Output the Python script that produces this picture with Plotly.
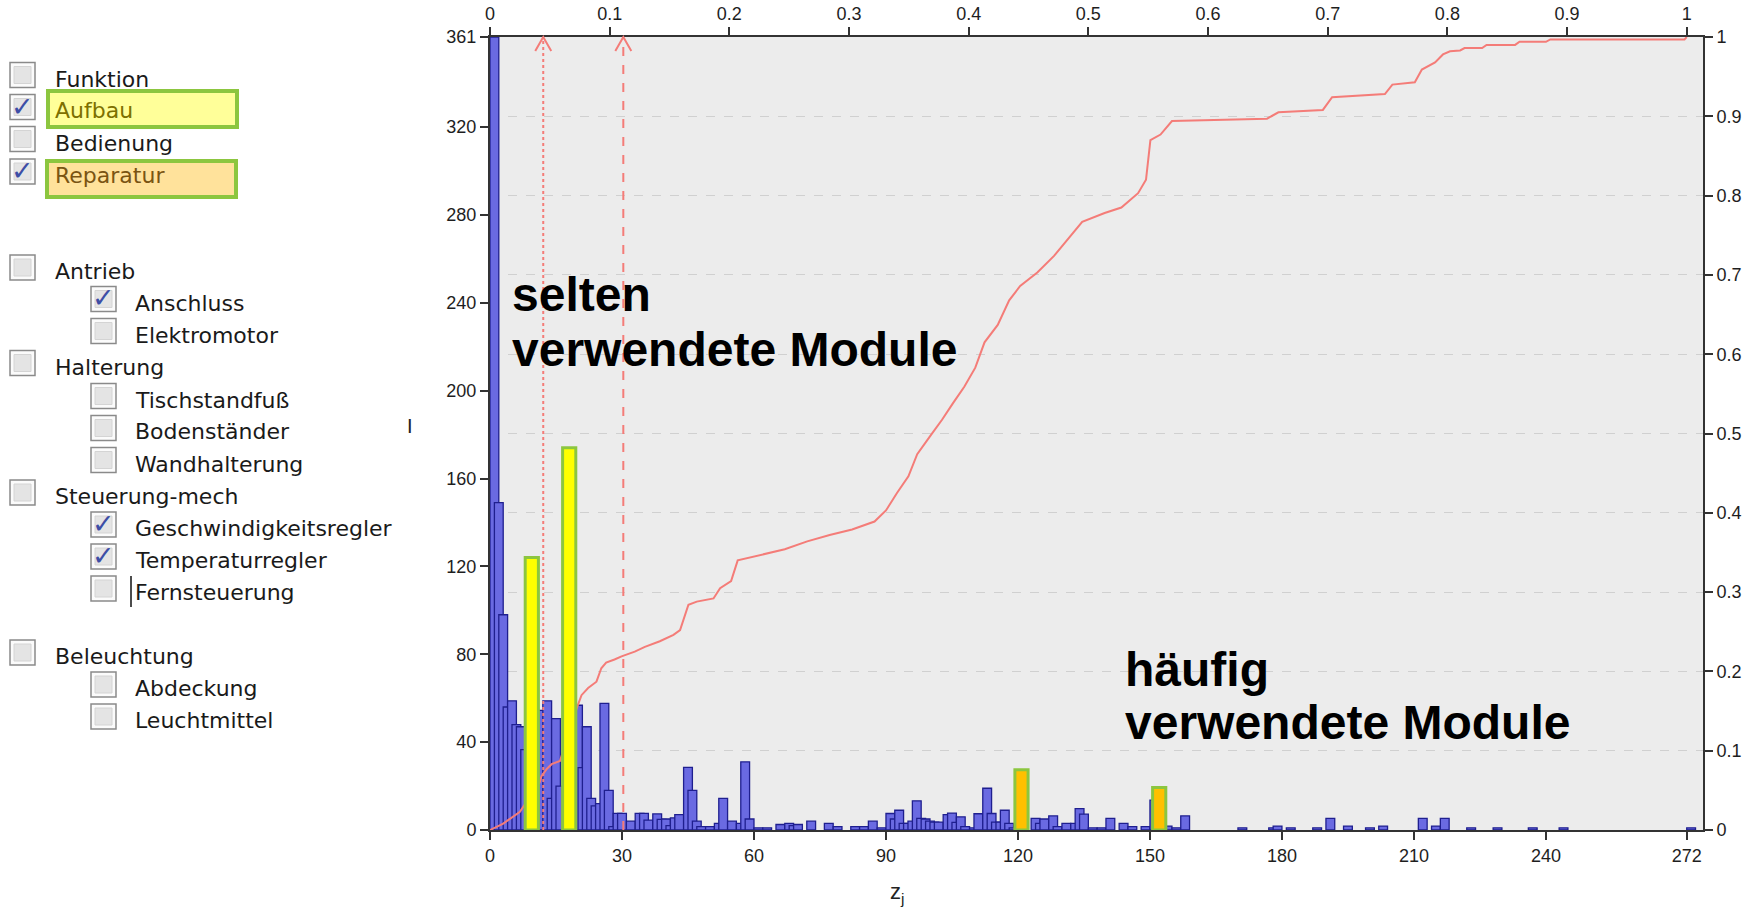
import plotly.graph_objects as go

# ---------------- data ----------------
# blue histogram: left edge z position and count (each bar spans two z units)
z_positions = [0, 1, 2, 3, 4, 5, 6, 7, 11, 12, 13, 14, 15, 19, 20, 21, 22, 23, 24, 25, 26, 27,
               28, 29, 31, 33, 34, 35, 37, 38, 39, 40, 41, 42, 44, 45, 46, 47, 49, 51, 52, 54,
               56, 57, 58, 60, 62, 65, 67, 68, 69, 72, 76, 78, 82, 84, 86, 88, 90, 91, 92, 93,
               94, 95, 96, 97, 98, 99, 100, 101, 103, 104, 105, 106, 107, 109, 110, 112, 113,
               114, 115, 116, 117, 118, 123, 124, 125, 127, 128, 130, 132, 133, 134, 136, 138,
               140, 143, 145, 148, 150, 153, 155, 157, 170, 177, 178, 181, 187, 190, 194, 199,
               202, 211, 214, 216, 222, 228, 236, 243, 272]
module_counts = [361, 149, 98, 56, 58.8, 48, 47, 36.6, 54.5, 58.8, 14.4, 50.7, 20, 56.8, 28.4, 47,
                 14.4, 11, 12, 57.6, 18, 1.5, 7.6, 7.6, 4, 7.6, 7.6, 4.5, 7.3, 4.8, 5, 2, 5.5,
                 7, 28.5, 18, 4, 1.5, 1.5, 3, 14.4, 4, 3, 31, 5, 1, 1, 2.5, 3, 2, 2.5, 4, 3, 1.5,
                 1.5, 1.5, 4, 1, 7.5, 5, 9, 3, 3, 4, 13.3, 5.3, 5, 4, 3.6, 3.6, 7, 7.7, 3.5, 6,
                 1.5, 1, 7.4, 19, 7.5, 3.6, 3.6, 9, 3, 1, 5.3, 3, 5, 6.4, 1.5, 3, 3, 9.7, 7.2, 1,
                 1, 5.3, 3, 1.5, 1.5, 13.6, 1.8, 1, 6.4, 1, 1, 1.8, 1, 1, 5.3, 1.8, 1, 1.8, 5.3,
                 1.8, 5.3, 1, 1, 1, 1, 1]

# highlighted modules
aufbau_z = [9.5, 18.0]
aufbau_counts = [124, 174]
reparatur_z = [120.8, 152.1]
reparatur_counts = [27.4, 19.3]

# cumulative share curve (right axis) read at z positions
cum_z = [0, 3, 6.8, 11.3, 11.7, 12.9, 14.0, 15.9, 19.8, 20.8, 22.3, 24.2, 25.3, 26.4, 28.3, 29.9,
         32.9, 35.2, 38.6, 41.7, 43.2, 45.1, 47.0, 50.8, 52.3, 54.8, 56.3, 61.9, 67.0, 72.1,
         77.2, 82.3, 87.4, 90.0, 92.5, 95.1, 97.1, 100.2, 102.7, 105.2, 107.8, 110.3, 112.4,
         115.4, 118.0, 120.5, 124.4, 128.2, 132.0, 134.6, 139.7, 143.5, 147.3, 149.1, 150.1,
         152.4, 155.0, 176.6, 179.2, 189.3, 191.4, 203.4, 205.1, 210.2, 211.8, 214.8, 216.6,
         218.2, 220.5, 221.5, 225.5, 226.5, 233.0, 234.0, 240.0, 241.0, 271.5, 272.0]
cum_share = [0, 0.008, 0.023, 0.060, 0.068, 0.077, 0.083, 0.087, 0.155, 0.170, 0.179, 0.187,
             0.204, 0.211, 0.215, 0.219, 0.225, 0.231, 0.238, 0.246, 0.252, 0.284, 0.288, 0.292,
             0.305, 0.314, 0.340, 0.347, 0.354, 0.364, 0.372, 0.379, 0.389, 0.403, 0.425, 0.446,
             0.474, 0.498, 0.517, 0.538, 0.559, 0.583, 0.615, 0.637, 0.668, 0.686, 0.703, 0.724,
             0.750, 0.767, 0.778, 0.785, 0.803, 0.820, 0.870, 0.877, 0.894, 0.897, 0.905, 0.908,
             0.924, 0.928, 0.940, 0.943, 0.959, 0.968, 0.978, 0.982, 0.983, 0.986, 0.986, 0.990,
             0.990, 0.994, 0.994, 0.997, 0.997, 1.0]

threshold_z = [12.1, 30.3]
threshold_dash = ["dot", "dash"]

z_max = 272
bottom_ticks = [0, 30, 60, 90, 120, 150, 180, 210, 240, 272]
left_ticks = [0, 40, 80, 120, 160, 200, 240, 280, 320, 361]
share_ticks = [0, 0.1, 0.2, 0.3, 0.4, 0.5, 0.6, 0.7, 0.8, 0.9, 1.0]
share_labels = ["0", "0.1", "0.2", "0.3", "0.4", "0.5", "0.6", "0.7", "0.8", "0.9", "1"]

panel_labels = ["Funktion", "Aufbau", "Bedienung", "Reparatur", "Antrieb", "Anschluss",
                "Elektromotor", "Halterung", "Tischstandfuß", "Bodenständer", "Wandhalterung",
                "Steuerung-mech", "Geschwindigkeitsregler", "Temperaturregler", "Fernsteuerung",
                "Beleuchtung", "Abdeckung", "Leuchtmittel"]
panel_level = [0, 0, 0, 0, 0, 1, 1, 0, 1, 1, 1, 0, 1, 1, 1, 0, 1, 1]
panel_checked = [False, True, False, True, False, True, False, False, False, False, False,
                 False, True, True, False, False, False, False]

# ---------------- layout geometry (pixels) ----------------
W, H = 1758, 908
L, R, T, B = 490, 1703, 37, 830
x_end = 275.7
row_y = [75, 107, 139, 171.5, 267.5, 299, 331, 363, 396, 428, 460, 492.5, 524.5, 556.5,
         588.5, 652.5, 684.5, 716.5]


def xp(px):
    return (px - L) / (R - L)


def yp(py):
    return (B - py) / (B - T)


BLUE = "#6a6ae2"
BLUE_LINE = "#1f1f8f"
RED = "#f47c78"
GREEN = "#8cc63f"
AX = "#333333"
TICKFONT = dict(family="Liberation Sans, Arial", size=18, color="#1e1e1e")

fig = go.Figure()

fig.add_trace(go.Bar(
    x=z_positions, y=module_counts, width=2, offset=0,
    marker=dict(color=BLUE, line=dict(color=BLUE_LINE, width=1.3)),
    xaxis="x", yaxis="y", showlegend=False, hoverinfo="skip"))

fig.add_trace(go.Scatter(
    x=[z / z_max for z in cum_z], y=cum_share, mode="lines",
    line=dict(color=RED, width=2), xaxis="x2", yaxis="y2",
    showlegend=False, hoverinfo="skip"))

fig.add_trace(go.Bar(
    x=aufbau_z, y=aufbau_counts, width=3,
    marker=dict(color="#ffff00", line=dict(color=GREEN, width=3)),
    xaxis="x3", yaxis="y3", showlegend=False, hoverinfo="skip"))
fig.add_trace(go.Bar(
    x=reparatur_z, y=reparatur_counts, width=3,
    marker=dict(color="#ffc000", line=dict(color=GREEN, width=3)),
    xaxis="x3", yaxis="y3", showlegend=False, hoverinfo="skip"))

shapes = []
for z, d in zip(threshold_z, threshold_dash):
    shapes.append(dict(type="line", xref="x", yref="paper", x0=z, x1=z, y0=0, y1=1,
                       line=dict(color=RED, width=2, dash=d), layer="above"))
    shapes.append(dict(type="path", xref="x", yref="paper", xsizemode="pixel",
                       ysizemode="pixel", xanchor=z, yanchor=1,
                       path="M -8,-14 L 0,0 L 8,-14",
                       line=dict(color=RED, width=2), layer="above"))

annotations = []

# left panel: highlight boxes
shapes.append(dict(type="rect", xref="paper", yref="paper", x0=xp(48), x1=xp(237),
                   y0=yp(127), y1=yp(91), fillcolor="#ffff99",
                   line=dict(color=GREEN, width=4), layer="above"))
shapes.append(dict(type="rect", xref="paper", yref="paper", x0=xp(47), x1=xp(236),
                   y0=yp(197), y1=yp(161), fillcolor="#ffe29b",
                   line=dict(color=GREEN, width=4), layer="above"))

for lab, lev, chk, cy in zip(panel_labels, panel_level, panel_checked, row_y):
    bx0 = 10 if lev == 0 else 91
    tx = 53 if lev == 0 else 133
    shapes.append(dict(type="rect", xref="paper", yref="paper", x0=xp(bx0), x1=xp(bx0 + 25),
                       y0=yp(cy + 12.5), y1=yp(cy - 12.5), fillcolor="#fbfbfb",
                       line=dict(color="#8a8a8a", width=1.5), layer="above"))
    shapes.append(dict(type="rect", xref="paper", yref="paper", x0=xp(bx0 + 4), x1=xp(bx0 + 21),
                       y0=yp(cy + 8.5), y1=yp(cy - 8.5), fillcolor="#e4e4e4",
                       line=dict(color="#d4d4d4", width=1), layer="above"))
    if chk:
        annotations.append(dict(xref="paper", yref="paper", x=xp(bx0 + 12.5), y=yp(cy - 1),
                                text="✓", showarrow=False, xanchor="center", yanchor="middle",
                                font=dict(family="DejaVu Sans", size=27, color="#3d4ea6")))
    col = "#1a1a1a"
    if lab == "Aufbau":
        col = "#7d7000"
    elif lab == "Reparatur":
        col = "#7a5412"
    annotations.append(dict(xref="paper", yref="paper", x=xp(tx), y=yp(cy + 4), text=lab,
                            showarrow=False, xanchor="left", yanchor="middle",
                            font=dict(family="DejaVu Sans", size=22, color=col)))

# text cursor before "Fernsteuerung"
shapes.append(dict(type="line", xref="paper", yref="paper", x0=xp(131), x1=xp(131),
                   y0=yp(607), y1=yp(576), line=dict(color="#111111", width=1.5)))

# axis titles
annotations.append(dict(xref="paper", yref="paper", x=xp(410), y=yp(426), text="I",
                        showarrow=False, xanchor="center", yanchor="middle",
                        font=dict(family="Liberation Sans, Arial", size=20, color="#222222")))
annotations.append(dict(xref="paper", yref="paper", x=xp(897), y=yp(893), text="z<sub>j</sub>",
                        showarrow=False, xanchor="center", yanchor="middle",
                        font=dict(family="Liberation Sans, Arial", size=22, color="#222222")))

BIG = dict(family="Liberation Sans, Arial", size=48, color="#000000", weight="bold")
for txt, x0, cy in [("selten", 510, 294.7), ("verwendete Module", 510, 349.6),
                    ("häufig", 1123, 669.7), ("verwendete Module", 1123, 722.5)]:
    annotations.append(dict(xref="paper", yref="paper", x=xp(x0), y=yp(cy), text=txt,
                            showarrow=False, xanchor="left", yanchor="middle", font=BIG))

axis_common = dict(ticks="outside", ticklen=8, tickwidth=1.5, tickcolor=AX, showline=True,
                   linecolor=AX, linewidth=2, zeroline=False, tickfont=TICKFONT,
                   automargin=False)

fig.update_layout(
    width=W, height=H, autosize=False,
    margin=dict(l=L, r=W - R, t=T, b=H - B, pad=0, autoexpand=False),
    paper_bgcolor="white", plot_bgcolor="#ececec",
    barmode="overlay", hovermode=False, showlegend=False,
    xaxis=dict(range=[0, x_end], tickmode="array", tickvals=bottom_ticks,
               showgrid=False, anchor="y", **axis_common),
    xaxis2=dict(range=[0, x_end / z_max], tickmode="array", tickvals=share_ticks,
                ticktext=share_labels, overlaying="x", side="top", anchor="y2",
                showgrid=False, **axis_common),
    xaxis3=dict(overlaying="x", matches="x", visible=False, anchor="y3", automargin=False),
    yaxis=dict(range=[0, 361], tickmode="array", tickvals=left_ticks, showgrid=False,
               anchor="x", **axis_common),
    yaxis2=dict(range=[0, 1], tickmode="array", tickvals=share_ticks, ticktext=share_labels,
                overlaying="y", side="right", anchor="x2", showgrid=True,
                gridcolor="#d0d0d0", griddash="dash", gridwidth=1, **axis_common),
    yaxis3=dict(overlaying="y", range=[0, 361], visible=False, anchor="x3", automargin=False),
    shapes=shapes, annotations=annotations,
)

fig.write_html("out.html", config={"displayModeBar": False},
               post_script="document.body.style.margin='0';document.body.style.overflow='hidden';")
